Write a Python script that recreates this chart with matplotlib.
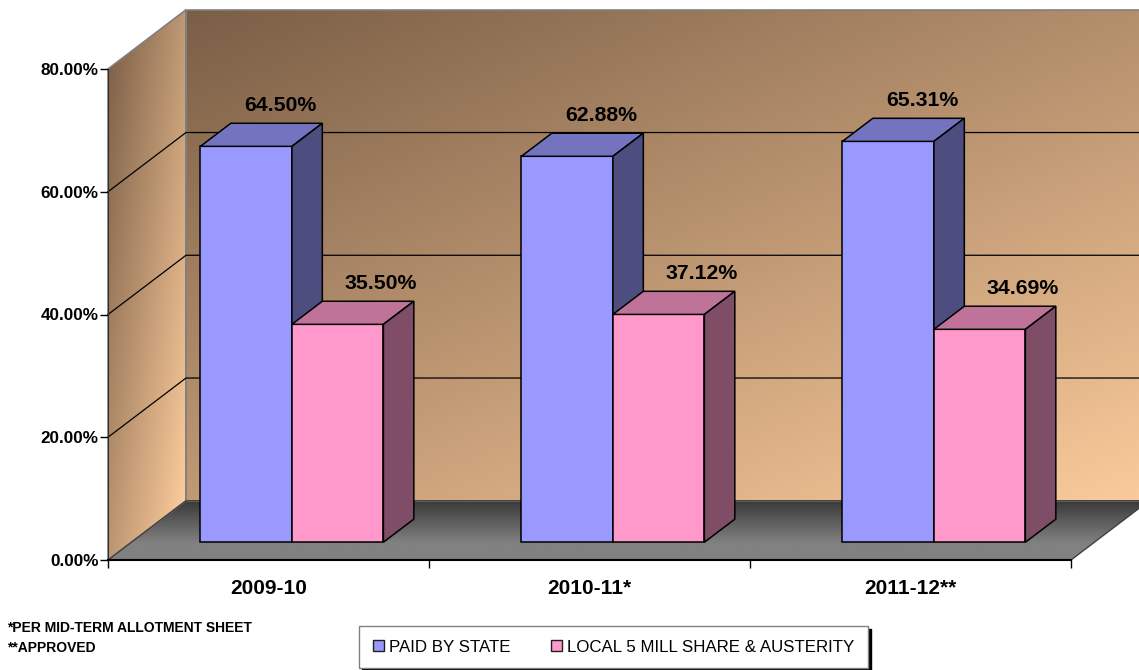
import numpy as np
import matplotlib
matplotlib.use("Agg")
import matplotlib.pyplot as plt
from matplotlib.patches import Polygon, Patch
from matplotlib.colors import to_rgb

# chart data
categories = ['2009-10', '2010-11*', '2011-12**']
series_names = ['PAID BY STATE', 'LOCAL 5 MILL SHARE & AUSTERITY']
paid_by_state = [64.50, 62.88, 65.31]
local_share = [35.50, 37.12, 34.69]
y_ticks = [0, 20, 40, 60, 80]
y_tick_labels = ['0.00%', '20.00%', '40.00%', '60.00%', '80.00%']
notes = ['*PER MID-TERM ALLOTMENT SHEET', '**APPROVED']

# colours: front, top, side
face_cols = [('#9999FF', '#7373BF', '#4D4D80'), ('#FF99CC', '#BF7399', '#804D66')]

plt.rcParams['font.family'] = ['Liberation Sans', 'DejaVu Sans']

W, H = 1139, 670
fig = plt.figure(figsize=(W / 100, H / 100), dpi=100)
ax = fig.add_axes([0, 0, 1, 1])

# front plane mapping (pixels)
x_left_px, cat_px = 108, 321
y_zero_px, pct_px = 560, 6.1375
ax.set_xlim(-x_left_px / cat_px, (W - x_left_px) / cat_px)
ax.set_ylim((y_zero_px - H) / pct_px, y_zero_px / pct_px)

# oblique depth offset in data units
DX = 78 / cat_px
DY = 9.65
f0, f1 = 0.30, 0.69
bar_w = 91.5 / cat_px
ymax = 80
ncat = len(categories)


def shade(poly, extent, c0, c1, wu, wv, z=0, n=300):
    u = np.linspace(0, 1, n)
    U, V = np.meshgrid(u, u)
    t = np.clip(wu * U + wv * V, 0, 1)[..., None]
    a, b = np.array(to_rgb(c0)), np.array(to_rgb(c1))
    img = a + (b - a) * t
    im = ax.imshow(img, extent=extent, origin='upper', aspect='auto', zorder=z, interpolation='bilinear')
    clip = Polygon(poly, closed=True, fc='none', ec='none', transform=ax.transData)
    ax.add_patch(clip)
    im.set_clip_path(clip)


# back wall
back = [(DX, DY), (ncat + DX, DY), (ncat + DX, ymax + DY), (DX, ymax + DY)]
shade(back, (DX, ncat + DX, DY, ymax + DY), '#7a5e46', '#fbcb9b', 0.45, 0.55)
ax.add_patch(Polygon(back, closed=True, fc='none', ec='#808080', lw=1.2, zorder=1))

# left wall
left = [(0, 0), (DX, DY), (DX, ymax + DY), (0, ymax)]
shade(left, (0, DX, 0, ymax + DY), '#785c45', '#fbcb9b', 0.55, 0.52)
ax.add_patch(Polygon(left, closed=True, fc='none', ec='#808080', lw=1.2, zorder=1))

# floor
floor = [(0, 0), (ncat, 0), (ncat + DX, DY), (DX, DY)]
shade(floor, (0, ncat + DX, 0, DY), '#383838', '#818181', 0, 1.4)
ax.add_patch(Polygon(floor, closed=True, fc='none', ec='#404040', lw=1.0, zorder=1))

# gridlines on the walls
for g in y_ticks[1:-1]:
    ax.plot([0, DX, ncat + DX], [g, g + DY, g + DY], color='black', lw=0.9, zorder=1.5)


def bar3d(x0, v, cols):
    x1 = x0 + bar_w
    front = [(x0 + f0 * DX, f0 * DY), (x1 + f0 * DX, f0 * DY),
             (x1 + f0 * DX, v + f0 * DY), (x0 + f0 * DX, v + f0 * DY)]
    top = [(x0 + f0 * DX, v + f0 * DY), (x1 + f0 * DX, v + f0 * DY),
           (x1 + f1 * DX, v + f1 * DY), (x0 + f1 * DX, v + f1 * DY)]
    side = [(x1 + f0 * DX, f0 * DY), (x1 + f1 * DX, f1 * DY),
            (x1 + f1 * DX, v + f1 * DY), (x1 + f0 * DX, v + f0 * DY)]
    for pts, c in zip([front, top, side], cols):
        ax.add_patch(Polygon(pts, closed=True, fc=c, ec='black', lw=1.1, joinstyle='miter', zorder=3))


series = [paid_by_state, local_share]
label_dx = [3, 9]
for i in range(ncat):
    for s, vals in enumerate(series):
        x0 = i + 0.5 - bar_w + s * bar_w
        bar3d(x0, vals[i], face_cols[s])
        xc = x0 + bar_w / 2 + f1 * DX
        ax.annotate(f'{vals[i]:.2f}%', (xc, vals[i] + f1 * DY), xytext=(label_dx[s], 13),
                    textcoords='offset points', ha='center', va='center',
                    fontsize=15.3, fontweight='bold', zorder=5)

# axes / ticks
for sp in ['top', 'right']:
    ax.spines[sp].set_visible(False)
ax.spines['left'].set_position(('data', 0))
ax.spines['left'].set_bounds(0, ymax)
ax.spines['bottom'].set_position(('data', 0))
ax.spines['bottom'].set_bounds(0, ncat)
ax.spines['left'].set_color('#303030')
ax.spines['bottom'].set_linewidth(1.5)
ax.spines['left'].set_zorder(2)
ax.spines['bottom'].set_zorder(2)

ax.set_yticks(y_ticks)
ax.set_yticklabels(y_tick_labels, fontsize=12.3, fontweight='bold')
ax.tick_params(axis='y', direction='out', length=5.8, width=1, pad=0.8)

ax.set_xticks(range(ncat + 1))
ax.set_xticklabels([''] * (ncat + 1))
ax.set_xticks([i + 0.5 for i in range(ncat)], minor=True)
ax.set_xticklabels(categories, minor=True, fontsize=15, fontweight='bold')
ax.tick_params(axis='x', which='major', direction='out', length=5.8, width=1)
ax.tick_params(axis='x', which='minor', length=0, pad=14)

# footnotes
for k, note in enumerate(notes):
    fig.text(7 / W, 1 - (628 + 20 * k) / H, note, fontsize=10, fontweight='bold', va='center', ha='left')

# legend
handles = [Patch(facecolor=c[0], edgecolor='#202020', lw=1) for c in face_cols]
leg = fig.legend(handles, series_names, loc='upper left', ncol=2, mode='expand',
                 bbox_to_anchor=(359 / W, 1 - 626 / H, 509 / W, 0),
                 bbox_transform=fig.transFigure, fontsize=12.2, frameon=True, fancybox=False,
                 edgecolor='#808080', borderpad=0.8, handlelength=0.65, handleheight=0.65,
                 handletextpad=0.3, borderaxespad=0, shadow={'color': 'black', 'alpha': 1})
leg.get_frame().set_linewidth(1)

fig.savefig('out.png', dpi=100)
